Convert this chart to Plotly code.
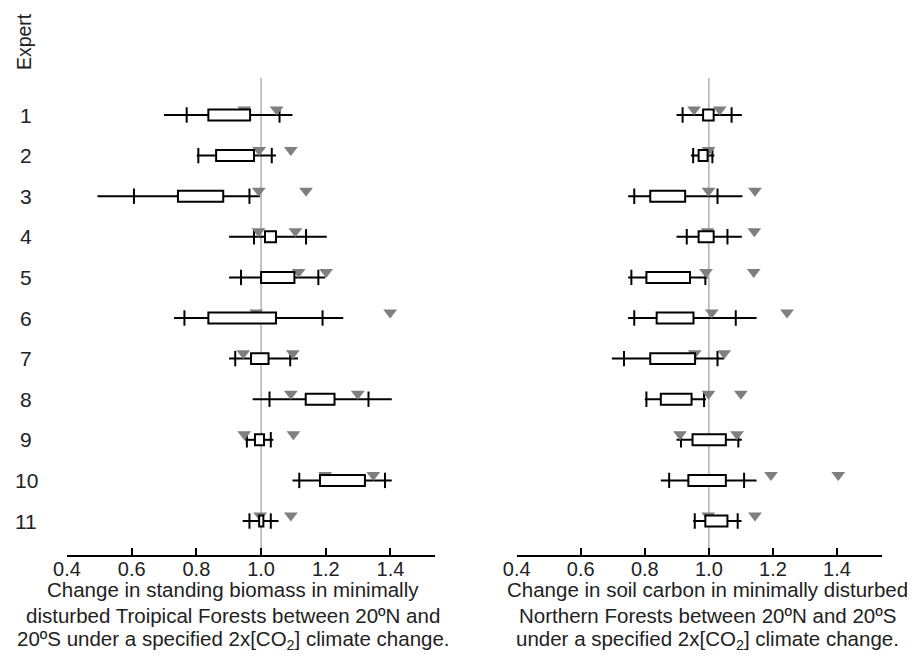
import plotly.graph_objects as go

experts = [1, 2, 3, 4, 5, 6, 7, 8, 9, 10, 11]
tick_vals = [0.4, 0.6, 0.8, 1.0, 1.2, 1.4]
tick_text = ["0.4", "0.6", "0.8", "1.0", "1.2", "1.4"]

# Left panel: standing biomass, tropical forests
bio_min = [0.700, 0.801, 0.494, 0.901, 0.901, 0.731, 0.901, 0.974, 0.951, 1.097, 0.943]
bio_p05 = [0.770, 0.806, 0.607, 0.978, 0.938, 0.763, 0.920, 1.026, 0.956, 1.118, 0.964]
bio_q1 = [0.837, 0.861, 0.743, 1.012, 1.000, 0.837, 0.969, 1.138, 0.981, 1.182, 0.994]
bio_med = [0.897, 0.920, 0.811, 1.028, 1.054, 0.935, 0.997, 1.182, 0.997, 1.252, 1.000]
bio_q3 = [0.966, 0.978, 0.883, 1.046, 1.103, 1.046, 1.023, 1.227, 1.009, 1.321, 1.007]
bio_p95 = [1.057, 1.033, 0.964, 1.139, 1.177, 1.190, 1.090, 1.332, 1.030, 1.383, 1.030]
bio_max = [1.097, 1.046, 0.997, 1.203, 1.198, 1.254, 1.114, 1.404, 1.038, 1.404, 1.054]
bio_tri_a = [0.948, 0.994, 0.993, 0.992, 1.116, 0.985, 0.945, 1.092, 0.948, 1.198, 0.997]
bio_tri_b = [1.048, 1.092, 1.139, 1.106, 1.201, 1.399, 1.098, 1.299, 1.100, 1.347, 1.092]

# Right panel: soil carbon, northern forests
soil_min = [0.899, 0.944, 0.748, 0.899, 0.748, 0.748, 0.697, 0.800, 0.899, 0.850, 0.951]
soil_p05 = [0.918, 0.951, 0.767, 0.931, 0.758, 0.767, 0.735, 0.805, 0.913, 0.876, 0.956]
soil_q1 = [0.982, 0.968, 0.817, 0.968, 0.805, 0.837, 0.817, 0.850, 0.949, 0.936, 0.989]
soil_med = [0.999, 0.982, 0.883, 0.999, 0.871, 0.883, 0.892, 0.897, 0.999, 1.001, 1.027]
soil_q3 = [1.015, 0.996, 0.926, 1.015, 0.941, 0.952, 0.957, 0.946, 1.053, 1.053, 1.058]
soil_p95 = [1.071, 1.011, 1.027, 1.058, 0.989, 1.084, 1.027, 0.985, 1.092, 1.110, 1.090]
soil_max = [1.103, 1.017, 1.105, 1.103, 0.996, 1.149, 1.048, 0.991, 1.103, 1.149, 1.102]
soil_tri_a = [0.954, 0.999, 0.999, 0.996, 0.991, 1.009, 0.956, 0.999, 0.910, 1.194, 0.998]
soil_tri_b = [1.034, None, 1.144, 1.142, 1.140, 1.244, 1.048, 1.100, 1.088, 1.404, 1.144]

left_title = ["Change in standing biomass in minimally",
              "disturbed Troipical Forests between 20ºN and",
              "20ºS under a specified 2x[CO<sub>2</sub>] climate change."]
right_title = ["Change in soil carbon in minimally disturbed",
               "Northern Forests between 20ºN and 20ºS",
               "under a specified 2x[CO<sub>2</sub>] climate change."]

FONT = "Liberation Sans, Arial, sans-serif"
BOX_H = 0.135
TRI_OFF = 0.135

fig = go.Figure()
shapes = []


def add_panel(xa, ya, mn, p05, q1, med, q3, p95, mx, ta, tb):
    shapes.append(dict(type="line", xref=xa, yref=ya + " domain", x0=1.0, x1=1.0,
                       y0=0, y1=1, line=dict(color="#b0b0b0", width=1.5), layer="below"))
    wx, wy = [], []
    for e, a, b in zip(experts, mn, mx):
        wx += [a, b, None]
        wy += [e, e, None]
    fig.add_trace(go.Scatter(x=wx, y=wy, mode="lines", line=dict(color="black", width=2),
                             xaxis=xa, yaxis=ya, showlegend=False, hoverinfo="skip"))
    fig.add_trace(go.Scatter(x=p05 + p95, y=experts + experts, mode="markers",
                             marker=dict(symbol="line-ns", size=11,
                                         line=dict(color="black", width=2)),
                             xaxis=xa, yaxis=ya, showlegend=False))
    for e, a, b in zip(experts, q1, q3):
        shapes.append(dict(type="rect", xref=xa, yref=ya, x0=a, x1=b,
                           y0=e - BOX_H, y1=e + BOX_H,
                           line=dict(color="black", width=2), fillcolor="white"))
    fig.add_trace(go.Scatter(x=med, y=experts, mode="markers",
                             marker=dict(symbol="circle", size=5, color="black"),
                             xaxis=xa, yaxis=ya, showlegend=False))
    tx, ty = [], []
    for e, a, b in zip(experts, ta, tb):
        for v in (a, b):
            if v is not None:
                tx.append(v)
                ty.append(e - TRI_OFF)
    fig.add_trace(go.Scatter(x=tx, y=ty, mode="markers",
                             marker=dict(symbol="triangle-down", size=12, color="#7f7f7f"),
                             xaxis=xa, yaxis=ya, showlegend=False))


add_panel("x", "y", bio_min, bio_p05, bio_q1, bio_med, bio_q3, bio_p95, bio_max, bio_tri_a, bio_tri_b)
add_panel("x2", "y2", soil_min, soil_p05, soil_q1, soil_med, soil_q3, soil_p95, soil_max, soil_tri_a, soil_tri_b)

xaxis_common = dict(range=[0.4, 1.5376], tickvals=tick_vals, ticktext=tick_text,
                    ticks="inside", ticklen=7, tickwidth=1.5, tickcolor="black",
                    showline=True, linecolor="black", linewidth=1.5, showgrid=False,
                    zeroline=False, ticklabelstandoff=-5,
                    tickfont=dict(size=20, color="#222", family=FONT))
yaxis_common = dict(range=[11.837, 0.0887], visible=False, showgrid=False, zeroline=False)

annotations = []
for e in experts:
    annotations.append(dict(x=-0.0503, xref="paper", y=e, yref="y", text=str(e),
                            showarrow=False, xanchor="center", yanchor="middle",
                            font=dict(size=21, color="#222", family=FONT)))
annotations.append(dict(x=-0.053, xref="paper", y=1.077, yref="paper", text="Expert",
                        textangle=-90, showarrow=False, xanchor="center", yanchor="middle",
                        font=dict(size=19.5, color="#222", family=FONT)))

line_y = [-0.073, -0.126, -0.179]
for txt, yy in zip(left_title, line_y):
    annotations.append(dict(x=0.2037, xref="paper", y=yy, yref="paper", text=txt,
                            showarrow=False, xanchor="center", yanchor="middle",
                            font=dict(size=20.5, color="#222", family=FONT)))
for txt, yy in zip(right_title, line_y):
    annotations.append(dict(x=0.7865, xref="paper", y=yy, yref="paper", text=txt,
                            showarrow=False, xanchor="center", yanchor="middle",
                            font=dict(size=20.5, color="#222", family=FONT)))

fig.update_layout(
    width=915, height=662,
    margin=dict(l=59, r=41, t=70, b=115),
    paper_bgcolor="white", plot_bgcolor="white",
    xaxis=dict(domain=[0, 368 / 815], anchor="y", **xaxis_common),
    xaxis2=dict(domain=[449.7 / 815, 1], anchor="y2", **{**xaxis_common, "range": [0.4, 1.5406]}),
    yaxis=dict(domain=[0, 1], anchor="x", **yaxis_common),
    yaxis2=dict(domain=[0, 1], anchor="x2", **yaxis_common),
    shapes=shapes,
    annotations=annotations,
    showlegend=False,
)

fig.write_html("out.html")
